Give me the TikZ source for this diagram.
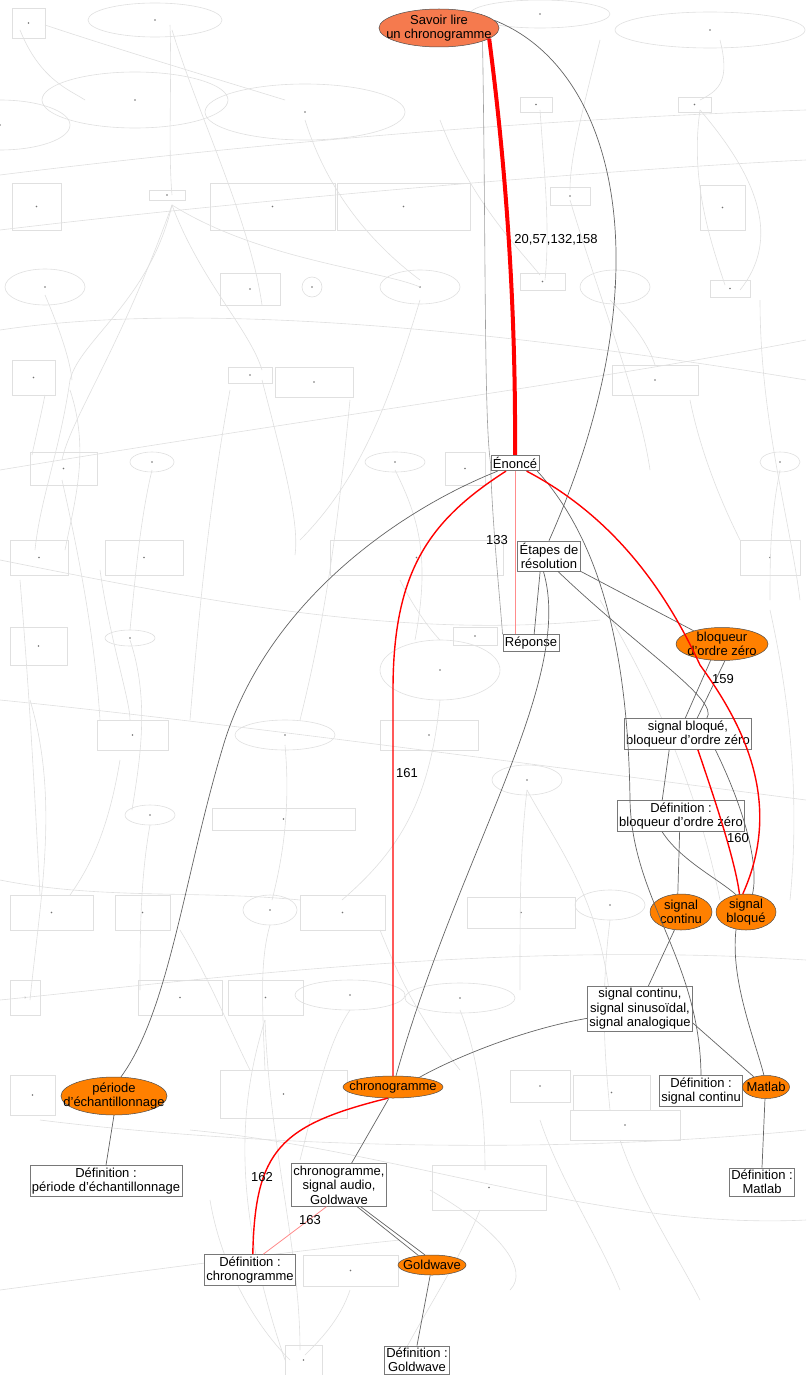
\documentclass[tikz,border=0pt]{standalone}
\usepackage{fontspec}
\setmainfont{Liberation Sans}
\usetikzlibrary{shapes.geometric}

\definecolor{faint}{RGB}{224,224,224}
\definecolor{edgegray}{RGB}{100,100,100}
\definecolor{boxgray}{RGB}{120,120,120}
\definecolor{corail}{RGB}{245,122,78}

\tikzset{
    lbl/.style={font=\fontsize{13}{14.5}\selectfont, align=center, text=black},
    concept/.style={lbl, ellipse, draw=black!70, line width=0.5pt, fill=orange,
        inner xsep=-30pt, inner ysep=-12pt},
    fiche/.style={lbl, rectangle, draw=boxgray, line width=0.8pt, fill=white, inner sep=2pt},
    lien/.style={edgegray, line width=0.7pt},
    lienclair/.style={gray!75, line width=0.6pt},
    rouge/.style={red, line width=1.4pt},
    elabel/.style={lbl, inner sep=0pt},
    fond/.style={faint, line width=0.6pt},
}

\begin{document}
\begin{tikzpicture}[x=1pt,y=-1pt]

    \useasboundingbox[fill=white] (0,0) rectangle (806,1375);

    %fond : le graphe complet en gris clair
    \foreach \xa/\ya/\xb/\yb in {12/8/45/38, 520/97/552/112, 678/97/711/112, 12/183/61/230,
        149/190/185/200, 210/183/335/230, 337/183/470/230, 550/187/590/205, 700/185/745/230,
        220/273/280/305, 520/273/565/290, 710/280/750/297, 228/367/272/383, 275/367/353/397,
        12/360/55/395, 612/365/698/395, 30/452/97/485, 445/452/485/485, 10/540/68/575,
        105/540/183/575, 330/540/503/575, 740/540/800/575, 10/627/67/665, 453/627/497/645,
        97/720/168/750, 380/720/478/750, 212/808/355/830, 10/895/93/930, 115/895/170/930,
        300/895/385/930, 467/897/575/928, 10/980/40/1015, 138/980/222/1015, 228/980/303/1015,
        10/1075/55/1115, 220/1070/347/1118, 510/1070/570/1102, 573/1075/650/1110,
        570/1110/680/1140, 432/1165/546/1210, 303/1255/398/1286, 285/1345/322/1375} {
        \draw[fond] (\xa,\ya) rectangle (\xb,\yb);
        \fill[black!55] ({(\xa+\xb)/2},{(\ya+\yb)/2}) circle (0.8);
    }
    \foreach \cx/\cy/\rx/\ry in {155/20/67/17, 135/100/93/28, 305/112/100/28, 0/125/70/25,
        710/30/95/18, 540/14/70/14, 45/287/40/18, 312/287/10/10, 420/287/40/17, 615/287/35/17,
        152/462/22/10, 395/462/30/10, 780/462/20/10, 130/638/25/8, 440/670/60/30,
        285/735/50/15, 527/780/35/15, 150/815/25/10, 270/910/27/15, 610/905/35/15,
        350/995/55/15, 460/998/55/15} {
        \draw[fond] (\cx,\cy) ellipse [x radius=\rx, y radius=\ry];
        \fill[black!55] (\cx,\cy) circle (0.8);
    }
    \foreach \xa/\ya/\xb/\yb/\xc/\yc/\xd/\yd in {
        20/30/40/80/70/90/85/100, 45/25/120/50/220/80/285/100, 170/25/172/80/168/150/172/195,
        172/30/200/120/250/220/262/305, 172/205/150/300/80/340/70/380,
        172/205/200/280/250/330/262/370, 172/205/120/350/70/420/62/460,
        172/205/260/260/380/270/420/287, 0/175/200/150/500/120/806/110,
        0/230/250/200/600/170/806/160, 0/330/200/300/500/330/806/380,
        0/470/300/420/600/380/806/340, 262/380/280/450/300/520/295/555,
        70/380/60/450/40/500/35/550, 70/390/90/450/75/500/65/550,
        152/470/140/520/135/580/130/630, 395/470/420/520/430/560/415/640,
        45/295/60/330/70/360/72/380, 420/300/390/400/360/480/300/540,
        540/110/545/180/550/230/545/280, 700/110/690/180/710/240/725/285,
        700/110/760/180/780/240/740/290, 570/200/600/300/640/400/650/470,
        780/470/770/520/770/560/770/600, 0/560/200/600/400/640/600/620,
        130/640/150/700/140/760/132/810, 285/745/290/800/285/850/272/900,
        440/700/430/800/400/850/342/900, 527/790/520/850/520/900/520/990,
        527/790/560/850/600/900/610/1000, 150/825/140/880/140/940/140/990,
        270/925/260/960/262/1000/265/1070, 350/1010/330/1040/320/1080/300/1160,
        460/1010/480/1060/485/1120/485/1170, 610/920/600/1000/605/1060/610/1110,
        0/700/200/720/500/760/806/800, 0/1000/200/980/500/940/806/960,
        40/1120/200/1140/500/1160/806/1130, 190/1130/400/1150/600/1230/806/1220,
        265/1020/240/1100/230/1200/285/1360, 265/1020/270/1150/300/1250/300/1350,
        350/1290/340/1320/320/1340/305/1355, 430/1190/500/1230/530/1270/510/1290,
        0/880/100/900/200/890/300/900, 600/600/660/700/700/800/720/900,
        760/300/760/420/790/520/800/600, 30/700/60/800/40/900/30/1000,
        305/120/330/200/380/250/420/280, 440/120/470/200/520/250/540/275,
        600/40/580/120/570/160/570/190, 720/40/730/80/720/90/700/100,
        610/300/640/330/650/350/655/365, 45/395/40/420/35/440/32/455,
        100/570/110/640/130/700/130/720, 62/480/80/560/95/640/100/720,
        400/580/420/620/440/640/440/640, 230/390/210/500/200/600/190/720,
        350/400/340/500/330/600/300/720, 690/400/700/450/720/500/740/540,
        770/610/790/700/800/800/790/900, 20/580/30/700/35/800/40/895,
        120/760/110/820/95/860/70/895, 180/930/210/980/230/1030/250/1070,
        380/930/400/980/420/1020/460/1070, 620/1140/640/1200/680/1260/700/1300,
        480/1210/460/1260/420/1320/400/1360, 210/1200/220/1260/250/1320/290/1360,
        540/1120/560/1180/600/1240/620/1290, 0/1290/150/1270/300/1250/400/1240} {
        \draw[fond] (\xa,\ya) .. controls (\xb,\yb) and (\xc,\yc) .. (\xd,\yd);
    }

    %noeuds
    \node[concept, fill=corail, minimum width=120, minimum height=38] (savoir) at (439,28) {Savoir lire\\un chronogramme};
    \node[fiche] (enonce) at (515,463) {Énoncé};
    \node[fiche] (etapes) at (549,556) {Étapes de\\résolution};
    \node[fiche] (reponse) at (531,643) {Réponse};
    \node[concept, minimum width=92, minimum height=33] (bloqueur) at (722,644) {bloqueur\\d'ordre zéro};
    \node[fiche] (sbb) at (688,734) {signal bloqué,\\bloqueur d'ordre zéro};
    \node[fiche] (defbloq) at (681,816) {Définition :\\bloqueur d'ordre zéro};
    \node[concept, minimum width=62, minimum height=36] (scontinu) at (681,912) {signal\\continu};
    \node[concept, minimum width=60, minimum height=36] (sbloque) at (746,912) {signal\\bloqué};
    \node[fiche] (scsa) at (640,1009) {signal continu,\\signal sinusoïdal,\\signal analogique};
    \node[fiche] (defscont) at (701,1091) {Définition :\\signal continu};
    \node[concept, minimum width=47, minimum height=23] (matlab) at (766,1087) {Matlab};
    \node[fiche] (defmatlab) at (762,1182) {Définition :\\Matlab};
    \node[concept, minimum width=106, minimum height=38] (periode) at (114,1096) {période\\d'échantillonnage};
    \node[fiche] (defperiode) at (106,1181) {Définition :\\période d'échantillonnage};
    \node[concept, minimum width=100, minimum height=22] (chrono) at (393,1087) {chronogramme};
    \node[fiche] (csg) at (339,1185) {chronogramme,\\signal audio,\\Goldwave};
    \node[fiche] (defchrono) at (250,1270) {Définition :\\chronogramme};
    \node[concept, minimum width=68, minimum height=20] (goldwave) at (432,1265) {Goldwave};
    \node[fiche] (defgold) at (417,1360) {Définition :\\Goldwave};

    %liens gris
    \draw[lienclair] (savoir.-17) .. controls (486,250) and (484,420) .. (enonce.west)
        .. controls (492,520) and (500,600) .. (reponse.north west);
    \draw[lien] (savoir.8) .. controls (620,70) and (665,280) .. (etapes.north);
    \draw[lien] (etapes.240) -- (reponse.70);
    \draw[lien] (etapes.south east) -- (bloqueur.155);
    \draw[lien] (etapes.250) .. controls (575,680) and (460,850) .. (chrono.75);
    \draw[lien] (enonce.205) .. controls (400,510) and (270,600) .. (225,740)
        .. controls (185,870) and (170,1010) .. (periode.70);
    \draw[lien] (enonce.-20) .. controls (600,540) and (628,650) .. (630,800)
        .. controls (632,900) and (700,960) .. (defscont.north);
    \draw[lien] (etapes.-60) .. controls (640,650) and (720,700) .. (sbb.40);
    \draw[lien] (bloqueur.235) -- (sbb.100);
    \draw[lien] (bloqueur.-80) -- (sbb.60);
    \draw[lien] (sbb.220) -- (defbloq.140);
    \draw[lien] (defbloq.-95) -- (scontinu.100);
    \draw[lien] (defbloq.220) .. controls (680,860) and (720,880) .. (sbloque.120);
    \draw[lien] (sbb.-30) .. controls (740,800) and (760,860) .. (sbloque.70);
    \draw[lien] (scontinu.250) -- (scsa.70);
    \draw[lien] (scsa.190) .. controls (520,1030) and (450,1060) .. (chrono.20);
    \draw[lien] (scsa.-15) -- (matlab.140);
    \draw[lien] (sbloque.-120) .. controls (730,980) and (755,1040) .. (matlab.100);
    \draw[lien] (matlab.-95) -- (defmatlab.north);
    \draw[lien] (periode.south) -- (defperiode.north);
    \draw[lien] (chrono.-110) -- (csg.60);
    \draw[lien] (csg.-50) -- (goldwave.145);
    \draw[lien] (csg.-45) -- (goldwave.125);
    \draw[lien] (goldwave.-100) -- (defgold.north);

    %liens rouges
    \draw[rouge, line width=4pt] (savoir.-12) .. controls (505,160) and (516,300) .. (enonce.north);
    \draw[red!45, line width=0.6pt] (enonce.south) -- (enonce.south |- reponse.north);
    \draw[rouge] (enonce.222) .. controls (430,520) and (393,570) .. (393,690) -- (chrono.north);
    \draw[rouge] (enonce.-35) .. controls (620,520) and (670,600) .. (700,665)
        .. controls (740,720) and (785,800) .. (sbloque.100);
    \draw[rouge] (sbb.-58) .. controls (715,800) and (735,860) .. (sbloque.110);
    \draw[rouge] (chrono.-115) .. controls (280,1125) and (255,1150) .. (defchrono.80);
    \draw[red!45, line width=0.8pt] (csg.-120) -- (defchrono.50);

    %etiquettes
    \node[elabel] (l20) at (556,240) {20,57,132,158};
    \node[elabel] (l133) at (497,540) {133};
    \node[elabel] (l159) at (723,679) {159};
    \node[elabel] (l160) at (738,838) {160};
    \node[elabel] (l161) at (407,773) {161};
    \node[elabel] (l162) at (262,1177) {162};
    \node[elabel] (l163) at (310,1220) {163};

\end{tikzpicture}
\end{document}
